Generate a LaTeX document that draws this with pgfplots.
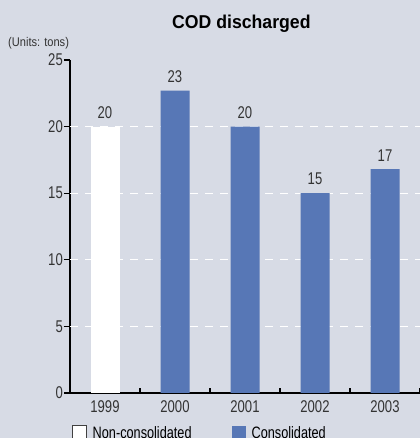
\documentclass[border=0pt]{standalone}
\usepackage{fontspec}
\setmainfont{Liberation Sans}[FakeStretch=0.77]
\newfontfamily\titlefont{Liberation Sans}[FakeStretch=0.95]
\newfontfamily\unitfont{Liberation Sans}[FakeStretch=0.88]
\usepackage{pgfplots}
\pgfplotsset{compat=1.18}
\definecolor{bg}{HTML}{D7DBE5}
\definecolor{barblue}{HTML}{5777B6}
\definecolor{txt}{HTML}{333333}

\begin{document}
\begin{tikzpicture}
% page background
\path[use as bounding box, fill=bg] (0,0) rectangle (420bp,438bp);
\node[anchor=base, inner sep=0pt, font=\titlefont\bfseries\fontsize{18.6bp}{20bp}\selectfont]
  at (241.4bp,409.7bp) {COD discharged};
\node[anchor=base west, inner sep=0pt, text=txt, font=\unitfont\fontsize{12.6bp}{14bp}\selectfont]
  at (8bp,391bp) {(Units: tons)};
\begin{axis}[
  at={(70bp,45bp)}, anchor=south west,
  scale only axis, width=350bp, height=333bp,
  xmin=-0.5, xmax=4.5, ymin=0, ymax=25,
  axis x line=bottom, axis y line=left,
  axis line style={-, line width=1.3bp, black},
  ybar, bar width=29bp, bar shift=0pt,
  xtick={0,1,2,3,4}, xticklabels={1999,2000,2001,2002,2003},
  minor xtick={0.5,1.5,2.5,3.5,4.5},
  ytick={0,5,10,15,20,25},
  % category separators point up into the plot, value ticks point out
  xtick align=inside,
  ytick align=outside,
  major tick length=6bp,
  minor tick length=5bp,
  tick style={line width=1.3bp, black},
  major x tick style={draw=none},
  extra y ticks={5,10,15,20},
  extra y tick labels={},
  extra y tick style={grid=major},
  major grid style={white, line width=1.2bp, dash pattern=on 8bp off 7bp},
  /pgf/number format/assume math mode=true,
  ticklabel style={text=txt, font=\fontsize{17bp}{20bp}\selectfont, inner sep=0pt},
  xticklabel style={anchor=north, yshift=-7bp},
  yticklabel style={anchor=east, xshift=-1bp},
  nodes near coords,
  nodes near coords style={anchor=south, inner sep=0pt, yshift=8bp, text=txt,
    font=\fontsize{17bp}{20bp}\selectfont,
    /pgf/number format/.cd, fixed, precision=0},
  legend columns=2,
  legend style={at={(rel axis cs:0.005,-0.093)}, anchor=north west,
    draw=none, fill=none, inner sep=0pt,
    font=\fontsize{16.5bp}{19bp}\selectfont,
    /tikz/every odd column/.append style={column sep=4bp},
    /tikz/every even column/.append style={column sep=38bp}},
]
\addplot[fill=white, draw=none,
  legend image code/.code={\draw[fill=white, draw=black!75, line width=0.8bp] (0bp,-7bp) rectangle (14bp,7bp);}]
  coordinates {(0,20)};
\addlegendentry{Non-consolidated}
\addplot[fill=barblue, draw=none,
  legend image code/.code={\fill[barblue] (0bp,-7bp) rectangle (14bp,7bp);}]
  coordinates {(1,22.7) (2,20) (3,15) (4,16.8)};
\addlegendentry{Consolidated}
\end{axis}
\end{tikzpicture}
\end{document}
